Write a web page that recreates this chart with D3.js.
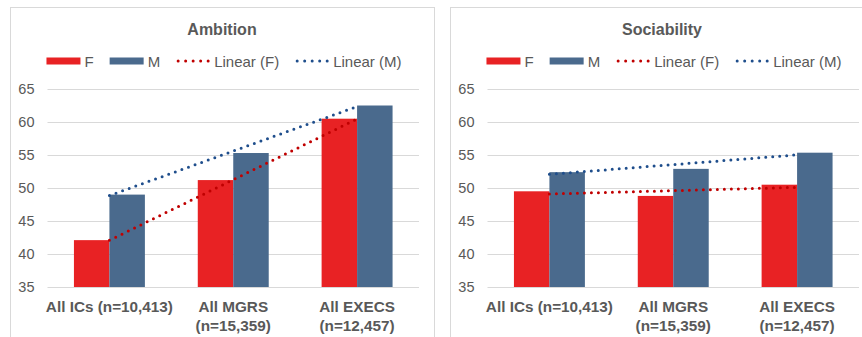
<!DOCTYPE html>
<html>
<head>
<meta charset="utf-8">
<script src="https://cdn.jsdelivr.net/npm/d3@7"></script>
<style>
  html, body { margin: 0; padding: 0; background: #fff; }
  svg { display: block; font-family: "Liberation Sans", Arial, sans-serif; }
</style>
</head>
<body>
<svg id="chart" width="862" height="337"></svg>
<script>
// Category labels (one entry per line of the wrapped label)
const categoryLines = [
  ["All ICs (n=10,413)"],
  ["All MGRS", "(n=15,359)"],
  ["All EXECS", "(n=12,457)"]
];
const categories = categoryLines.map(d => d.join(" "));

// Average scores by gender
const ambitionF = [42.1, 51.2, 60.5];
const ambitionM = [49.0, 55.3, 62.5];
const sociabilityF = [49.5, 48.8, 50.5];
const sociabilityM = [52.4, 52.9, 55.35];

const yTicks = [35, 40, 45, 50, 55, 60, 65];
const seriesNames = ["F", "M"];
const trendNames = ["Linear (F)", "Linear (M)"];

const panels = [
  { title: "Ambition", f: ambitionF, m: ambitionM, left: 10 },
  { title: "Sociability", f: sociabilityF, m: sociabilityM, left: 450 }
];

const colors = { F: "#E82224", M: "#4A6A8D", trendF: "#C00000", trendM: "#1F4E8C" };
const textColor = "#595959";
const gridColor = "#D9D9D9";

const svg = d3.select("#chart");

const panelW = 424, panelTop = 7;
const plot = { left: 37.5, width: 371.5, top: 89, bottom: 287 };

// least-squares line through the points (i, v)
function linearFit(values) {
  const xs = values.map((_, i) => i);
  const mx = d3.mean(xs), my = d3.mean(values);
  const slope = d3.sum(xs, (x, i) => (x - mx) * (values[i] - my)) / d3.sum(xs, x => (x - mx) ** 2);
  return xs.map(x => my + slope * (x - mx));
}

panels.forEach(p => {
  const g = svg.append("g").attr("transform", `translate(${p.left},0)`);

  // panel frame
  g.append("rect")
    .attr("x", 0.5).attr("y", panelTop + 0.5)
    .attr("width", panelW).attr("height", 345)
    .attr("fill", "#fff").attr("stroke", gridColor).attr("stroke-width", 1);

  // title
  g.append("text")
    .attr("x", panelW / 2).attr("y", 35)
    .attr("text-anchor", "middle")
    .attr("font-size", 16).attr("font-weight", "bold")
    .attr("fill", textColor)
    .text(p.title);

  const x0 = d3.scaleBand().domain(categories)
    .range([plot.left, plot.left + plot.width])
    .paddingInner(0.427).paddingOuter(0.2135);
  const x1 = d3.scaleBand().domain(seriesNames).range([0, x0.bandwidth()]);
  const y = d3.scaleLinear().domain([35, 65]).range([plot.bottom, plot.top]);

  // gridlines + tick labels
  const yAxis = d3.axisLeft(y).tickValues(yTicks)
    .tickSize(-plot.width).tickPadding(13).tickFormat(d3.format("d"));
  const ya = g.append("g")
    .attr("transform", `translate(${plot.left},0)`)
    .call(yAxis);
  ya.select(".domain").remove();
  ya.selectAll(".tick line").attr("stroke", gridColor).attr("stroke-width", 1);
  ya.selectAll(".tick text")
    .attr("fill", textColor).attr("font-size", 14.5)
    .attr("font-family", "Liberation Sans, Arial, sans-serif");

  // bars
  const rows = categories.map((c, i) => ({ cat: c, F: p.f[i], M: p.m[i] }));
  const grp = g.append("g").selectAll("g").data(rows).join("g")
    .attr("transform", d => `translate(${x0(d.cat)},0)`);
  grp.selectAll("rect")
    .data(d => seriesNames.map(s => ({ s, v: d[s] })))
    .join("rect")
    .attr("x", d => x1(d.s))
    .attr("width", x1.bandwidth())
    .attr("y", d => y(d.v))
    .attr("height", d => y(35) - y(d.v))
    .attr("fill", d => colors[d.s]);

  // category labels
  const xl = g.append("g");
  categoryLines.forEach((lines, i) => {
    const cxl = x0(categories[i]) + x0.bandwidth() / 2;
    const t = xl.append("text")
      .attr("x", cxl)
      .attr("y", 312)
      .attr("text-anchor", "middle")
      .attr("font-size", 15.3).attr("font-weight", "bold")
      .attr("fill", textColor);
    lines.forEach((ln, j) => {
      t.append("tspan")
        .attr("x", cxl)
        .attr("dy", j === 0 ? 0 : 18.5)
        .text(ln);
    });
  });

  // linear trend lines, drawn from the first to the last category centre
  const cx = i => x0(categories[i]) + x0.bandwidth() / 2;
  [[p.f, colors.trendF], [p.m, colors.trendM]].forEach(([vals, col]) => {
    const fit = linearFit(vals);
    const last = vals.length - 1;
    g.append("path")
      .datum([[0, fit[0]], [last, fit[last]]])
      .attr("d", d3.line().x(d => cx(d[0])).y(d => y(d[1])))
      .attr("fill", "none")
      .attr("stroke", col).attr("stroke-width", 3)
      .attr("stroke-linecap", "round")
      .attr("stroke-dasharray", "0 7");
  });

  // legend
  const leg = g.append("g");
  const items = [
    { label: seriesNames[0], kind: "bar", color: colors.F },
    { label: seriesNames[1], kind: "bar", color: colors.M },
    { label: trendNames[0], kind: "dot", color: colors.trendF },
    { label: trendNames[1], kind: "dot", color: colors.trendM }
  ];
  const gap = 16;
  let cur = 0;
  items.forEach(it => {
    const ig = leg.append("g").attr("transform", `translate(${cur},0)`);
    if (it.kind === "bar") {
      ig.append("rect").attr("x", 0).attr("y", -3.5).attr("width", 34).attr("height", 7).attr("fill", it.color);
    } else {
      ig.append("line").attr("x1", 2).attr("x2", 34).attr("y1", 0).attr("y2", 0)
        .attr("stroke", it.color).attr("stroke-width", 3)
        .attr("stroke-linecap", "round").attr("stroke-dasharray", "0 7.5");
    }
    const t = ig.append("text").attr("x", 38).attr("y", 5.5)
      .attr("font-size", 15).attr("fill", textColor).text(it.label);
    cur += 38 + t.node().getComputedTextLength() + gap;
  });
  const legW = cur - gap;
  leg.attr("transform", `translate(${(panelW - legW) / 2 + 2},61)`);
});
</script>
</body>
</html>
